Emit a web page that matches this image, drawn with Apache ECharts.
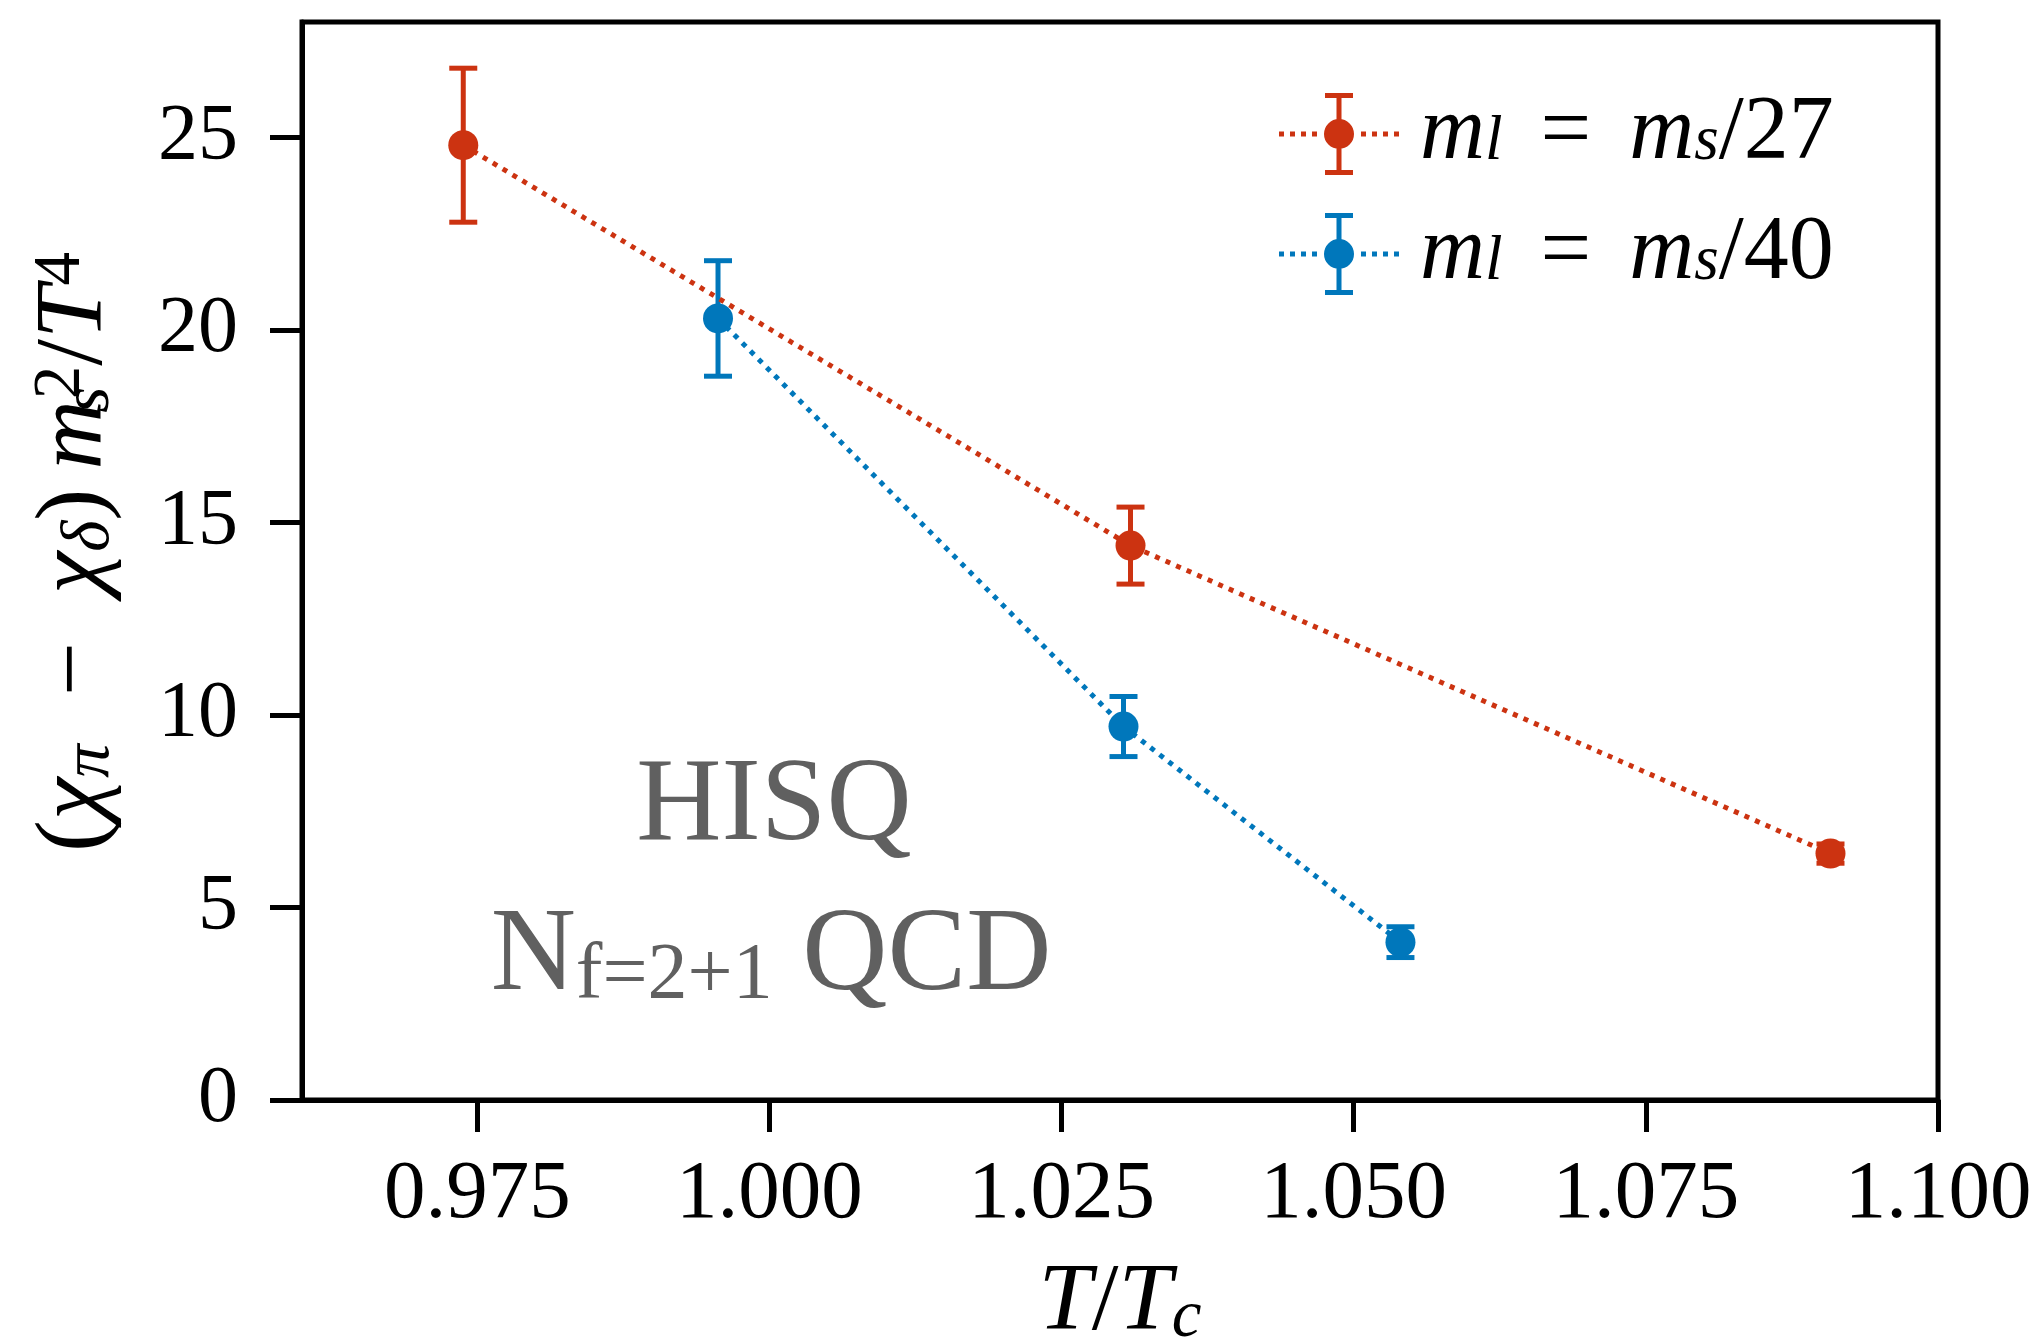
<!DOCTYPE html>
<html>
<head>
<meta charset="utf-8">
<title>chi_pi - chi_delta vs T/Tc</title>
<script src="https://cdn.jsdelivr.net/npm/echarts@6/dist/echarts.min.js"></script>
<style>
    html, body { margin: 0; padding: 0; background: #fff; }
    #chart { width: 2039px; height: 1344px; }
</style>
</head>
<body>
<div id="chart"></div>
<script>
// m_l = m_s/27
var tRed = [0.9738, 1.0309, 1.0908];
var yRed = [24.8, 14.4, 6.4];
var eRed = [2.0, 1.0, 0.25];

// m_l = m_s/40
var tBlue = [0.9956, 1.0303, 1.0540];
var yBlue = [20.3, 9.7, 4.1];
var eBlue = [1.5, 0.78, 0.4];

var xTicks = [0.975, 1.000, 1.025, 1.050, 1.075, 1.100];
var yTicks = [0, 5, 10, 15, 20, 25];
var seriesNames = ['m_l = m_s/27', 'm_l = m_s/40'];

var RED = '#CC3311';
var BLUE = '#0077BB';
var serif = '"Liberation Serif", "DejaVu Serif", serif';

// rich styles for the math-ish labels
function mathRich(size, lh, gapEm) {
    var s = Math.round(size * 0.7);
    return {
        i: { fontFamily: serif, fontStyle: 'italic', fontSize: size, lineHeight: lh, color: '#000' },
        sub: { fontFamily: serif, fontStyle: 'italic', fontSize: s, lineHeight: Math.round(size * 0.5), verticalAlign: 'bottom', color: '#000' },
        subz: { fontFamily: serif, fontStyle: 'italic', fontSize: s, lineHeight: Math.round(size * 0.5), verticalAlign: 'bottom', width: 1, color: '#000' },
        sup: { fontFamily: serif, fontSize: s, lineHeight: Math.round(size * 0.47), verticalAlign: 'top', color: '#000' },
        gap: { fontFamily: serif, fontSize: size, lineHeight: lh, width: Math.round(size * gapEm) }
    };
}

// legend icon: dotted line, marker and error bar
var iconPath = 'path://' +
    'M0 38.5L5 38.5L5 43.5L0 43.5Z M11 38.5L16 38.5L16 43.5L11 43.5Z M22 38.5L27 38.5L27 43.5L22 43.5Z M33 38.5L38 38.5L38 43.5L33 43.5Z ' +
    'M82 38.5L87 38.5L87 43.5L82 43.5Z M93 38.5L98 38.5L98 43.5L93 43.5Z M104 38.5L109 38.5L109 43.5L104 43.5Z M115 38.5L120 38.5L120 43.5L115 43.5Z ' +
    'M46 0L74 0L74 5L46 5Z M46 77L74 77L74 82L46 82Z M57.5 0L62.5 0L62.5 82L57.5 82Z ' +
    'M45 41A15 15 0 1 1 75 41A15 15 0 1 1 45 41Z';

function points(xs, ys) {
    var out = [];
    for (var i = 0; i < xs.length; i++) out.push([xs[i], ys[i]]);
    return out;
}

function errRows(xs, ys, es) {
    var out = [];
    for (var i = 0; i < xs.length; i++) out.push([xs[i], ys[i] - es[i], ys[i] + es[i]]);
    return out;
}

function errorBars(name, color, rows) {
    return {
        name: name,
        type: 'custom',
        data: rows,
        encode: { x: 0, y: [1, 2] },
        z: 3,
        renderItem: function (params, api) {
            var lo = api.coord([api.value(0), api.value(1)]);
            var hi = api.coord([api.value(0), api.value(2)]);
            var hw = 14;
            var st = { stroke: color, lineWidth: 5 };
            return {
                type: 'group',
                children: [
                    { type: 'line', shape: { x1: lo[0], y1: lo[1], x2: hi[0], y2: hi[1] }, style: st },
                    { type: 'line', shape: { x1: hi[0] - hw, y1: hi[1], x2: hi[0] + hw, y2: hi[1] }, style: st },
                    { type: 'line', shape: { x1: lo[0] - hw, y1: lo[1], x2: lo[0] + hw, y2: lo[1] }, style: st }
                ]
            };
        }
    };
}

function lineSeries(name, color, data) {
    return {
        name: name,
        type: 'line',
        data: data,
        symbol: 'circle',
        symbolSize: 30,
        z: 4,
        itemStyle: { color: color, borderWidth: 0 },
        lineStyle: { color: color, width: 5, type: [5, 6.5] }
    };
}

function mathName(name) {
    return name.replace(/m_(\w)/g, '{i|m}{sub|$1}').replace(' = ', '{gap| }={gap| }');
}

var chart = echarts.init(document.getElementById('chart'));

var option = {
    animation: false,
    backgroundColor: '#fff',
    grid: {
        left: 302, right: 101, top: 22, bottom: 244,
        containLabel: false,
        outerBoundsMode: 'none',
        show: true, borderColor: '#000', borderWidth: 5
    },
    legend: {
        orient: 'vertical',
        left: 1279,
        top: 89,
        padding: 0,
        itemGap: 30,
        itemWidth: 120,
        itemHeight: 82,
        selectedMode: false,
        data: [
            { name: seriesNames[0], icon: iconPath },
            { name: seriesNames[1], icon: iconPath }
        ],
        itemStyle: { borderWidth: 0 },
        formatter: mathName,
        textStyle: {
            fontFamily: serif, fontSize: 90, lineHeight: 80, color: '#000',
            padding: [0, 0, 0, 16],
            rich: mathRich(90, 80, 0.42)
        }
    },
    xAxis: {
        type: 'value',
        min: 0.96,
        max: 1.1,
        name: '{i|T}/{i|T}{sub|c}',
        nameLocation: 'middle',
        nameGap: 156,
        nameTextStyle: { fontFamily: serif, fontSize: 96, lineHeight: 96, color: '#000', rich: mathRich(96, 96, 0.3) },
        axisLine: { lineStyle: { color: '#000', width: 5 } },
        axisTick: { customValues: xTicks, length: 32, lineStyle: { color: '#000', width: 5 } },
        axisLabel: {
            customValues: xTicks,
            margin: 54,
            fontFamily: serif, fontSize: 83, color: '#000',
            formatter: function (v) { return v.toFixed(3); }
        },
        splitLine: { show: false }
    },
    yAxis: {
        type: 'value',
        min: 0,
        max: 28,
        name: '({i|χ}{sub|π}\u2002−\u2002{i|χ}{sub|δ})\u2009{i|m}{subz|s}{sup|2}/{i|T}{sup|4}',
        nameLocation: 'middle',
        nameRotate: 90,
        nameGap: 178,
        nameTextStyle: {
            fontFamily: serif, fontSize: 96, lineHeight: 96, color: '#000',
            padding: [0, 0, 0, 18],
            rich: mathRich(96, 96, 0.45)
        },
        axisLine: { lineStyle: { color: '#000', width: 5 } },
        axisTick: { customValues: yTicks, length: 32, lineStyle: { color: '#000', width: 5 } },
        axisLabel: {
            customValues: yTicks,
            margin: 64,
            fontFamily: serif, fontSize: 80, color: '#000'
        },
        splitLine: { show: false }
    },
    graphic: [
        {
            type: 'text', x: 774, y: 808, z: 10,
            style: { text: 'HISQ', fontFamily: serif, fontSize: 118, fill: '#606060', align: 'center', verticalAlign: 'middle' }
        },
        {
            type: 'text', x: 771, y: 958, z: 10,
            style: {
                text: '{b|N}{s|f=2+1}{b| QCD}',
                fontFamily: serif, fontSize: 118, fill: '#606060',
                align: 'center', verticalAlign: 'middle',
                rich: {
                    b: { fontFamily: serif, fontSize: 118, lineHeight: 118, fill: '#606060' },
                    s: { fontFamily: serif, fontSize: 80, lineHeight: 92, verticalAlign: 'bottom', fill: '#606060' }
                }
            }
        }
    ],
    series: [
        lineSeries(seriesNames[0], RED, points(tRed, yRed)),
        errorBars('err27', RED, errRows(tRed, yRed, eRed)),
        lineSeries(seriesNames[1], BLUE, points(tBlue, yBlue)),
        errorBars('err40', BLUE, errRows(tBlue, yBlue, eBlue))
    ]
};

chart.setOption(option);
</script>
</body>
</html>
